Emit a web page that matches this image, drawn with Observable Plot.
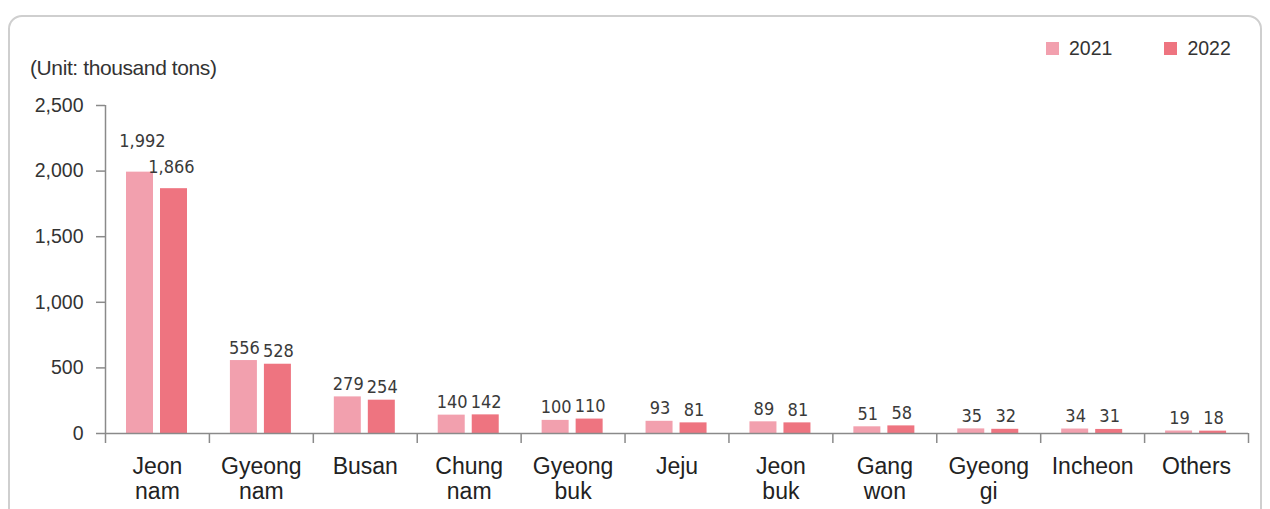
<!DOCTYPE html>
<html>
<head>
<meta charset="utf-8">
<script src="https://cdn.jsdelivr.net/npm/d3@7"></script>
<script src="https://cdn.jsdelivr.net/npm/@observablehq/plot@0.6"></script>
<style>
  html, body { margin: 0; padding: 0; background: #fff; }
  #wrap { position: relative; width: 1270px; height: 509px; overflow: hidden; font-family: "Liberation Sans", Arial, sans-serif; color: #333; }
  #border { position: absolute; left: 8px; top: 15px; width: 1254px; height: 520px; border: 2px solid #cfcfcf; border-radius: 14px; box-sizing: border-box; }
  #unit { position: absolute; left: 30px; top: 56px; font-size: 21px; letter-spacing: -0.4px; white-space: nowrap; }
  #legend { position: absolute; top: 37px; left: 1046px; display: flex; align-items: center; font-size: 19.5px; white-space: nowrap; }
  .sw { display: inline-block; width: 13px; height: 13px; margin-right: 10px; }
  .item { display: flex; align-items: center; margin-right: 52px; }
  #chart { position: absolute; left: 0; top: 0; }
</style>
</head>
<body>
<div id="wrap">
  <div id="border"></div>
  <div id="chart"></div>
  <div id="unit">(Unit: thousand tons)</div>
  <div id="legend"></div>
</div>
<script>
const categories = ["Jeon\nnam", "Gyeong\nnam", "Busan", "Chung\nnam", "Gyeong\nbuk", "Jeju", "Jeon\nbuk", "Gang\nwon", "Gyeong\ngi", "Incheon", "Others"];
const values2021 = [1992, 556, 279, 140, 100, 93, 89, 51, 35, 34, 19];
const values2022 = [1866, 528, 254, 142, 110, 81, 81, 58, 32, 31, 18];
const years = ["2021", "2022"];
const yTicks = [0, 500, 1000, 1500, 2000, 2500];
const colors = ["#f2a0ae", "#ee7480"];

const W = 1270, H = 509;
const mLeft = 105, mRight = 22, mTop = 105, mBottom = 76;
const bw = (W - mLeft - mRight) / categories.length;

const rows = [];
categories.forEach((c, i) => {
  rows.push({cat: c, year: years[0], value: values2021[i], idx: i});
  rows.push({cat: c, year: years[1], value: values2022[i], idx: i});
});
const r21 = rows.filter(d => d.year === years[0]);
const r22 = rows.filter(d => d.year === years[1]);
const fmt = d3.format(",");
const labelFont = {fontFamily: "'DejaVu Sans Condensed', 'DejaVu Sans', sans-serif", fontStretch: "condensed", fontSize: 18, fill: "#3a3a3a", lineAnchor: "bottom", style: {letterSpacing: "-0.4px"}};

const chart = Plot.plot({
  width: W, height: H,
  marginLeft: mLeft, marginRight: mRight, marginTop: mTop, marginBottom: mBottom,
  style: {fontFamily: "'Liberation Sans', Arial, sans-serif", color: "#333", background: "transparent"},
  x: {domain: categories, padding: 0, round: false, axis: null},
  y: {domain: [0, 2500], axis: null},
  marks: [
    Plot.barY(r21, {x: "cat", y: "value", fill: colors[0], insetLeft: 21, insetRight: bw - 48}),
    Plot.barY(r22, {x: "cat", y: "value", fill: colors[1], insetLeft: 55, insetRight: bw - 82}),
    Plot.ruleY([0], {stroke: "#8a8a8a", strokeWidth: 1.5}),
    Plot.ruleX(categories, {x: d => d, y1: 0, y2: 0, dx: -bw / 2, insetBottom: -10, stroke: "#8a8a8a", strokeWidth: 1.5}),
    Plot.ruleX(categories.slice(-1), {x: d => d, y1: 0, y2: 0, dx: bw / 2, insetBottom: -10, stroke: "#8a8a8a", strokeWidth: 1.5}),
    Plot.ruleX(categories.slice(0, 1), {x: d => d, y1: 0, y2: 2500, dx: -bw / 2, stroke: "#8a8a8a", strokeWidth: 1.5}),
    Plot.axisY({ticks: yTicks, tickSize: 9, tickPadding: 13, tickFormat: fmt, fontSize: 19.5, stroke: "#8a8a8a", strokeWidth: 1.5, fill: "#333", label: null}),
    Plot.axisX({tickSize: 0, tickPadding: 23, fontSize: 23, lineHeight: 1.09, fill: "#222", label: null, style: {letterSpacing: "1.1px"}}),
    Plot.text(r21.filter(d => d.idx > 0), {x: "cat", y: "value", text: d => fmt(d.value), dx: -17, dy: -7, ...labelFont}),
    Plot.text(r22.filter(d => d.idx > 0), {x: "cat", y: "value", text: d => fmt(d.value), dx: 17, dy: -7, ...labelFont}),
    Plot.text(r21.filter(d => d.idx === 0), {x: "cat", y: "value", text: d => fmt(d.value), dx: -15, dy: -25, ...labelFont}),
    Plot.text(r22.filter(d => d.idx === 0), {x: "cat", y: "value", text: d => fmt(d.value), dx: 14, dy: -16, ...labelFont})
  ]
});
document.getElementById("chart").appendChild(chart);

const legend = document.getElementById("legend");
years.forEach((y, i) => {
  const item = document.createElement("div");
  item.className = "item";
  item.innerHTML = `<span class="sw" style="background:${colors[i]}"></span><span>${y}</span>`;
  legend.appendChild(item);
});
</script>
</body>
</html>
